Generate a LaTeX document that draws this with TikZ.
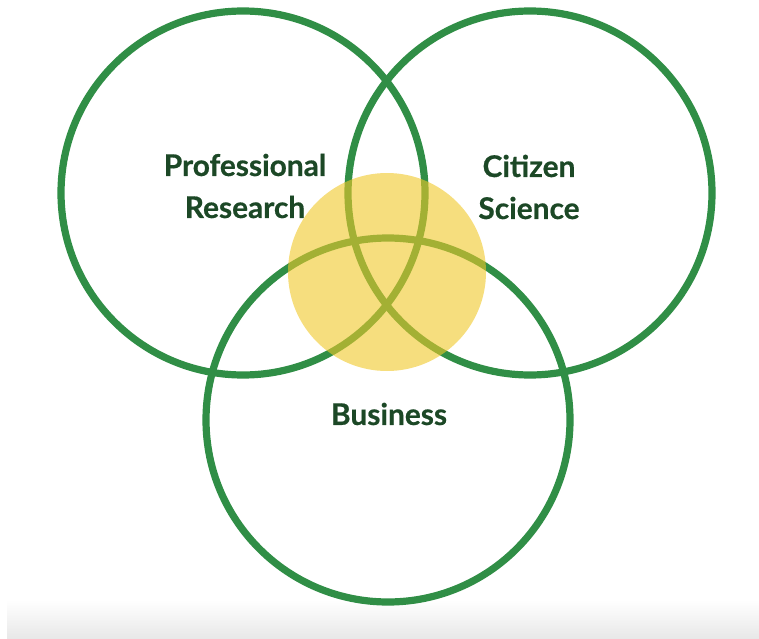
\documentclass[tikz,border=0pt]{standalone}
\usepackage{fontspec}
\setmainfont{Lato}[BoldFeatures={FakeBold=0.6}]
\definecolor{ringgreen}{RGB}{48,142,70}
\definecolor{textgreen}{RGB}{28,72,38}
\definecolor{coreyellow}{RGB}{240,200,40}

\begin{document}
\begin{tikzpicture}[x=0.75pt,y=-0.75pt,
  ring/.style={draw=ringgreen, line width=5.4pt},
  field/.style={text=textgreen, font=\bfseries\fontsize{22.4}{31.5}\selectfont, align=center}]
\useasboundingbox (0,0) rectangle (759,638);
% grey band along the bottom
\shade[top color=white, bottom color=black!9, shading angle=0] (7,600) rectangle (759,638);
% the three circles
\draw[ring] (243,193) circle (182);
\draw[ring] (530,193) circle (182);
\draw[ring] (388,420) circle (182);
% overlap in the middle
\fill[coreyellow, fill opacity=0.6] (387,272) circle (99);
\node[field] (pro) at (245,186) {Professional\\Research};
\node[field] (cit) at (529,187) {Citizen\\Science};
\node[field] (bus) at (389,414) {Business};
\end{tikzpicture}
\end{document}
